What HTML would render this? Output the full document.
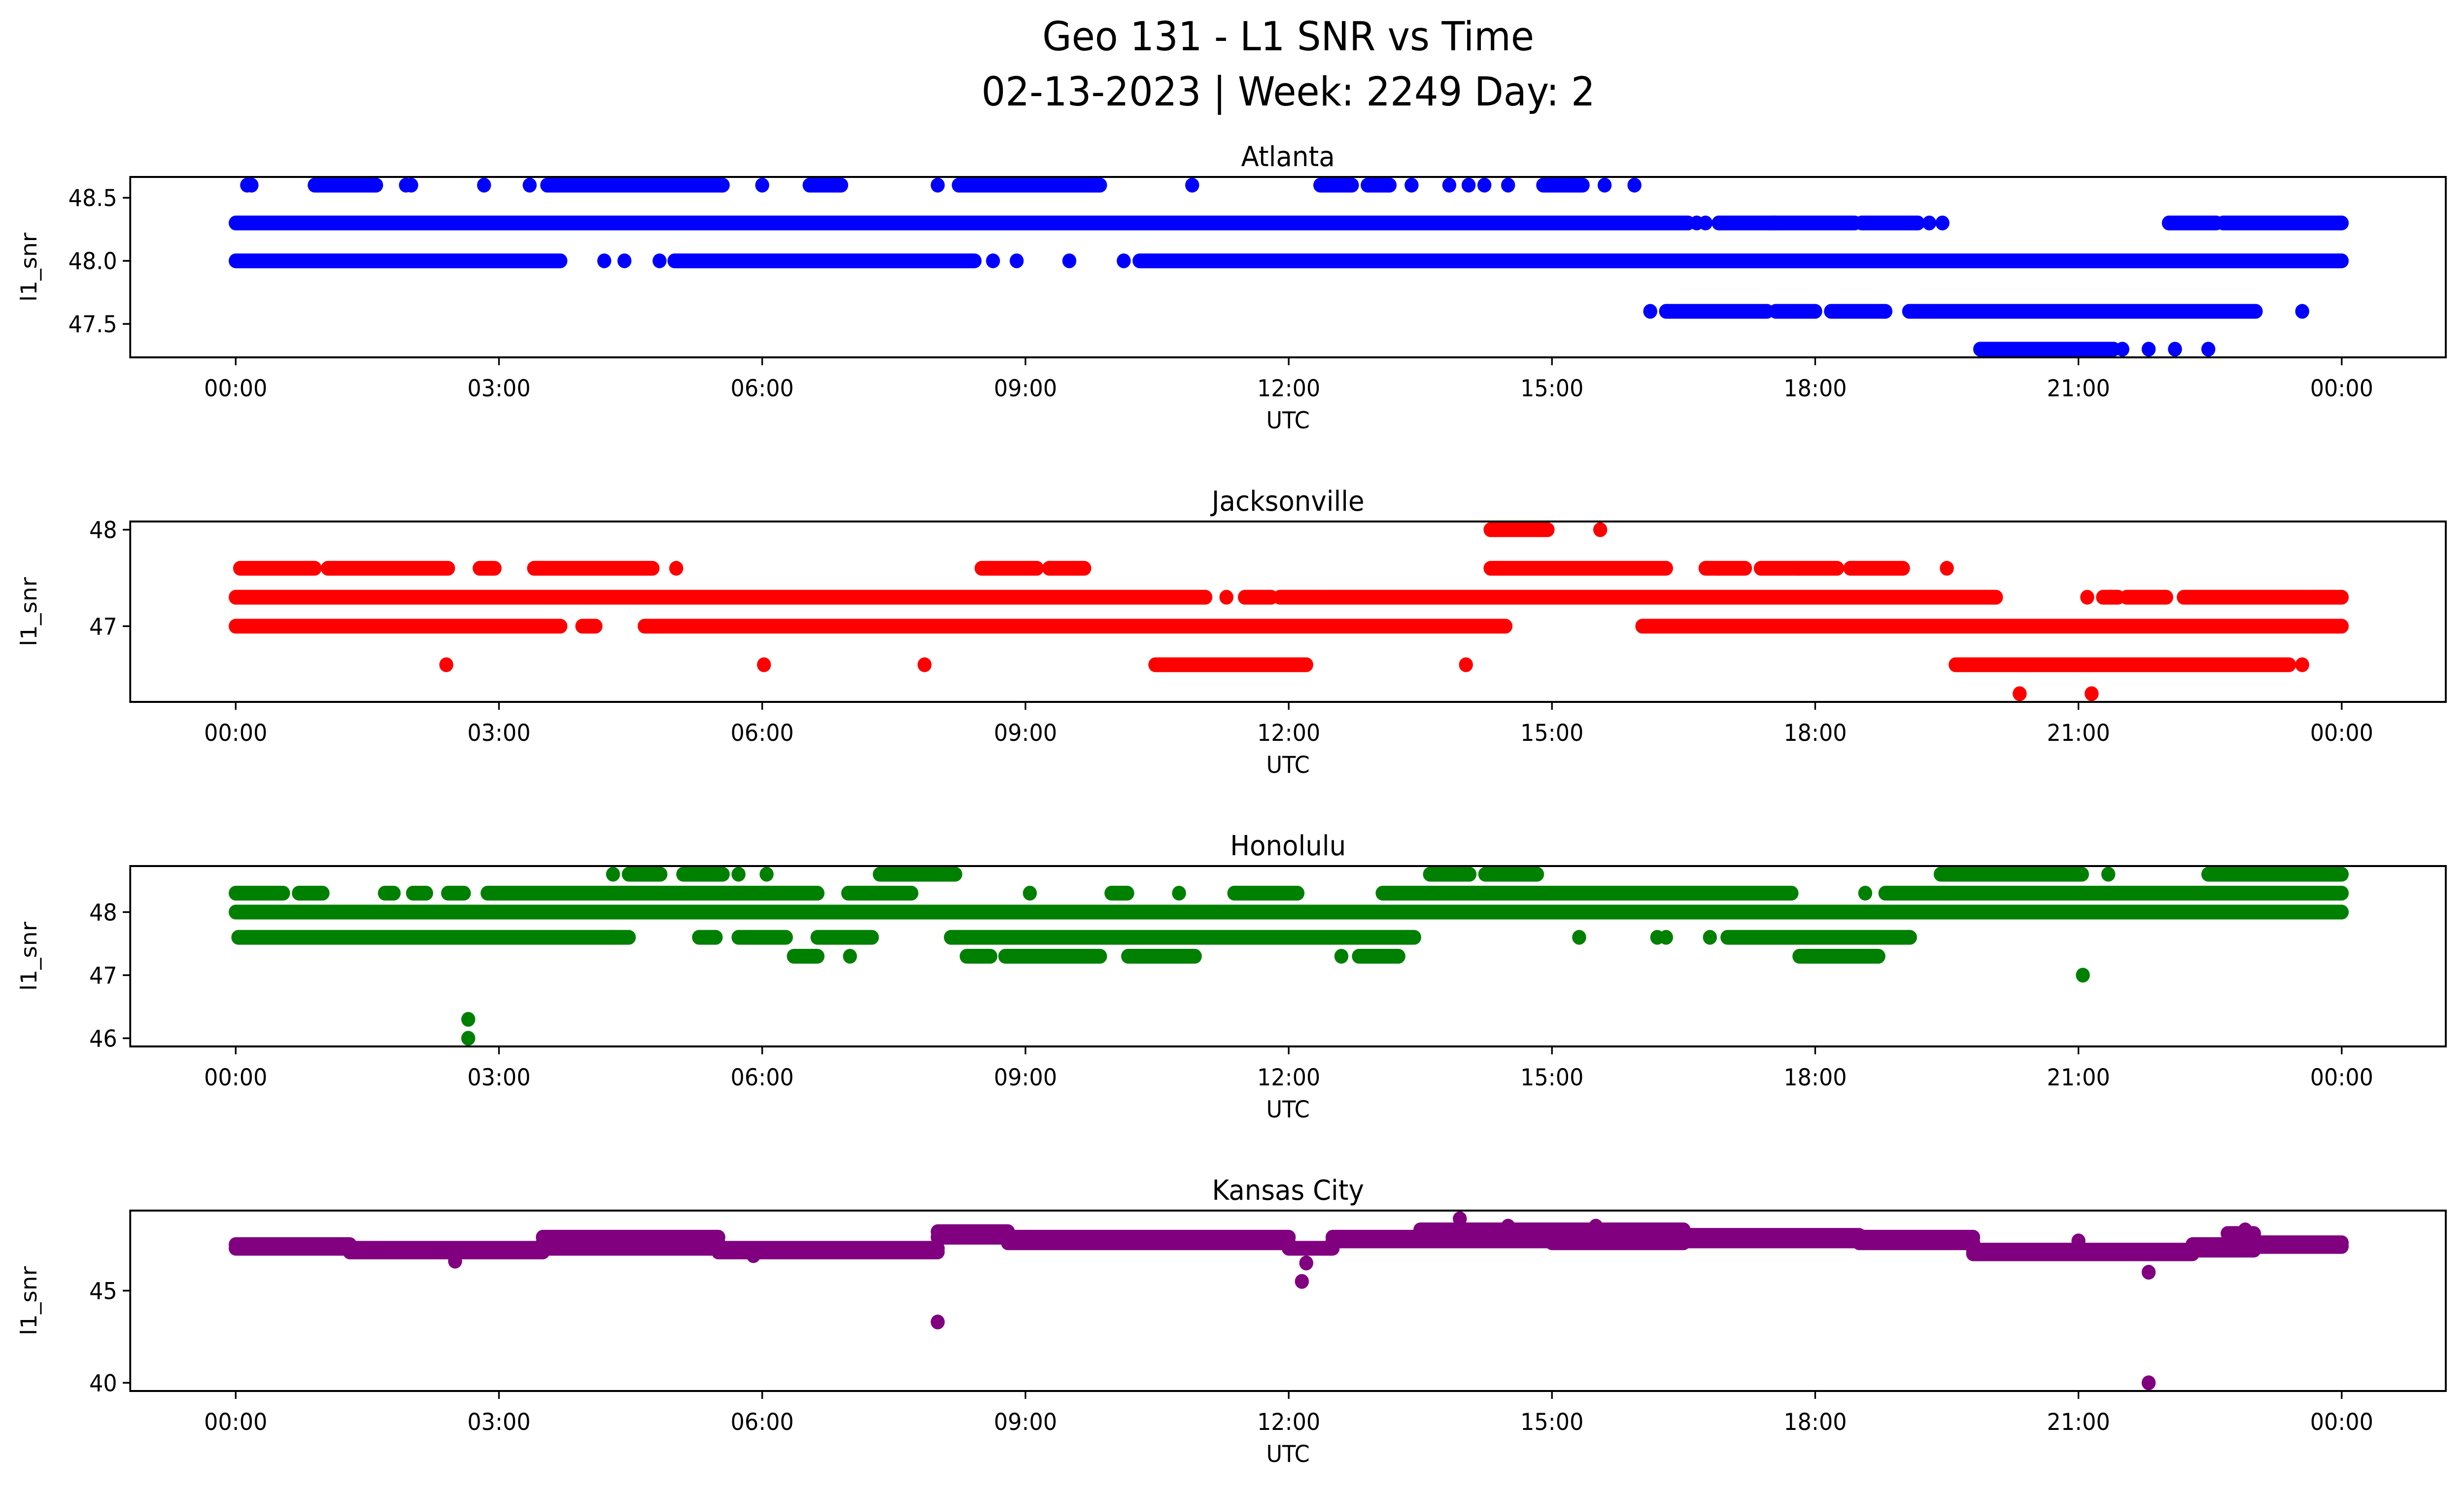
<!DOCTYPE html>
<html><head><meta charset="utf-8"><style>
html,body{margin:0;padding:0;background:#fff;overflow:hidden;width:100vw;height:100vh}
svg{display:block;position:absolute;left:0;top:0;width:100vw;height:100vh;font-family:"DejaVu Sans","Liberation Sans",sans-serif}
</style></head><body>
<svg id="chart" viewBox="0 0 5279 3033" preserveAspectRatio="none" xmlns="http://www.w3.org/2000/svg">
<rect width="5279" height="3033" fill="#fff"/>
<text x="2760" y="102" font-size="81" text-anchor="middle">Geo 131 - L1 SNR vs Time</text>
<text x="2760" y="214" font-size="81" text-anchor="middle">02-13-2023 | Week: 2249 Day: 2</text>
</svg>
<script>
// Data: runs [startHour, endHour, value]; single points [hour, value]
const xTickLabels = ["00:00","03:00","06:00","09:00","12:00","15:00","18:00","21:00","00:00"];
const stationNames = ["Atlanta","Jacksonville","Honolulu","Kansas City"];
const stationColors = ["#0000ff","#ff0000","#008000","#800080"];
const yDomains = [[47.235,48.665],[46.215,48.085],[45.87,48.73],[39.555,49.345]];
const yTicks = [[47.5,48.0,48.5],[47,48],[46,47,48],[40,45]];
const yTickLabels = [["47.5","48.0","48.5"],["47","48"],["46","47","48"],["40","45"]];

const atlRuns = [[0,16.55,48.3],[16.9,17.55,48.3],[17.5,18.45,48.3],[18.53,19.17,48.3],[22.03,22.57,48.3],[22.65,24,48.3],
 [0,3.7,48.0],[5.0,8.42,48.0],[10.3,24,48.0],
 [16.3,17.45,47.6],[17.55,18.0,47.6],[18.18,18.8,47.6],[19.07,23.02,47.6],
 [19.88,21.4,47.3],
 [0.9,1.6,48.6],[3.55,5.55,48.6],[6.54,6.9,48.6],[8.24,9.85,48.6],[12.36,12.72,48.6],[12.9,13.15,48.6],[14.9,15.35,48.6]];
const atlPoints = [[16.65,48.3],[16.75,48.3],[19.3,48.3],[19.45,48.3],[4.2,48.0],[4.43,48.0],[4.83,48.0],[8.63,48.0],[8.9,48.0],[9.5,48.0],[10.12,48.0],
 [16.12,47.6],[23.55,47.6],[21.5,47.3],[21.8,47.3],[22.1,47.3],[22.48,47.3],
 [0.13,48.6],[0.18,48.6],[1.94,48.6],[2.0,48.6],[2.83,48.6],[3.35,48.6],[6.0,48.6],[8.0,48.6],[10.9,48.6],[13.4,48.6],[13.83,48.6],[14.05,48.6],[14.23,48.6],[14.5,48.6],[15.6,48.6],[15.94,48.6]];

const jaxRuns = [[0,11.05,47.3],[11.5,11.8,47.3],[11.9,20.06,47.3],[21.28,21.45,47.3],[21.55,22.0,47.3],[22.2,24,47.3],
 [0,3.7,47.0],[3.95,4.1,47.0],[4.66,14.47,47.0],[16.03,24,47.0],
 [0.05,0.9,47.6],[1.05,2.42,47.6],[2.78,2.95,47.6],[3.4,4.75,47.6],[8.5,9.13,47.6],[9.27,9.67,47.6],[14.3,16.3,47.6],[16.75,17.2,47.6],[17.38,18.25,47.6],[18.4,19.0,47.6],
 [14.3,14.95,48.0],
 [10.48,12.2,46.6],[19.6,23.4,46.6]];
const jaxPoints = [[11.29,47.3],[21.1,47.3],[16.9,47.6],[17.8,47.6],[19.5,47.6],[5.02,47.6],[15.55,48.0],[2.4,46.6],[6.02,46.6],[7.85,46.6],[14.02,46.6],[23.55,46.6],[20.33,46.3],[21.15,46.3]];

const honRuns = [[0,24,48.0],
 [0.03,4.48,47.6],[5.28,5.47,47.6],[5.73,6.27,47.6],[6.63,7.25,47.6],[8.15,13.43,47.6],[17.0,19.08,47.6],
 [0,0.54,48.3],[0.72,0.99,48.3],[1.7,1.8,48.3],[2.02,2.17,48.3],[2.42,2.6,48.3],[2.87,6.63,48.3],[6.98,7.7,48.3],[9.98,10.16,48.3],[11.38,12.1,48.3],[13.07,17.73,48.3],[18.8,24,48.3],
 [4.48,4.84,48.6],[5.1,5.55,48.6],[7.34,8.2,48.6],[13.61,14.06,48.6],[14.24,14.83,48.6],[19.43,21.04,48.6],[22.48,24,48.6],
 [6.36,6.63,47.3],[8.33,8.6,47.3],[8.77,9.85,47.3],[10.17,10.93,47.3],[12.8,13.25,47.3],[17.82,18.72,47.3]];
const honPoints = [[9.05,48.3],[10.75,48.3],[18.57,48.3],[4.3,47.6],[13.35,47.6],[15.31,47.6],[16.2,47.6],[16.3,47.6],[16.8,47.6],
 [4.3,48.6],[5.73,48.6],[6.05,48.6],[21.34,48.6],[7.0,47.3],[12.6,47.3],[2.65,46.3],[2.65,46.0],[21.05,47.0]];

const kcRuns = [[0,1.3,47.5],[0,1.3,47.3],[1.3,3.5,47.3],[1.3,3.5,47.1],[3.5,5.5,47.6],[3.5,5.5,47.3],[3.5,5.5,47.9],[5.5,8.0,47.3],[5.5,8.0,47.1],
 [8.0,8.8,47.9],[8.0,8.8,48.2],[8.8,12.0,47.6],[8.8,12.0,47.9],[12.0,12.5,47.3],[12.5,13.5,47.7],[12.5,13.5,47.9],[13.5,15.0,48.0],[13.5,15.0,48.3],[13.5,15.0,47.7],
 [15.0,16.5,47.9],[15.0,16.5,48.3],[15.0,16.5,47.6],[16.5,18.5,47.7],[16.5,18.5,48.0],[18.5,19.8,47.6],[18.5,19.8,47.9],[19.8,22.3,47.2],[19.8,22.3,47.0],
 [22.3,23.0,47.5],[22.3,23.0,47.2],[22.7,23.0,48.1],[23.0,24,47.6],[23.0,24,47.4]];
const kcPoints = [[8.0,43.3],[12.15,45.5],[12.2,46.5],[21.8,46.0],[21.8,40.0],[13.95,48.9],[2.5,46.6],[5.9,46.9],[15.5,48.5],[14.5,48.5],[22.9,48.3],[21.0,47.7]];

const allRuns = [atlRuns,jaxRuns,honRuns,kcRuns];
const allPoints = [atlPoints,jaxPoints,honPoints,kcPoints];

const NS="http://www.w3.org/2000/svg";
const svg=document.getElementById('chart');
const L=279,R=5240,X0=505,X1=5017;
const tops=[359,1058,1757,2456], H=366, MR=15;
function xScale(h){return X0+(X1-X0)*h/24;}
function mk(tag,attrs,parent){const e=document.createElementNS(NS,tag);for(const k in attrs)e.setAttribute(k,attrs[k]);(parent||svg).appendChild(e);return e;}

for(let p=0;p<4;p++){
  const top=tops[p], bot=top+H, d=yDomains[p];
  const yScale=v=>bot-(v-d[0])/(d[1]-d[0])*H;
  const g=mk('g',{});
  
  
  const clip=mk('clipPath',{id:'c'+p},g);mk('rect',{x:L,y:top,width:R-L,height:H},clip);
  const marks=mk('g',{'clip-path':'url(#c'+p+')'},g);
  
  
  for(const r of allRuns[p]){
    const ln=mk('line',{x1:xScale(r[0]),x2:xScale(r[1]),y1:yScale(r[2]),y2:yScale(r[2]),stroke:stationColors[p],'stroke-width':MR*2,'stroke-linecap':'round'},marks);
    
    
  }
  for(const q of allPoints[p]){
    const c=mk('circle',{cx:xScale(q[0]),cy:yScale(q[1]),r:MR,fill:stationColors[p]},marks);
    
    
  }
  const fr=mk('rect',{x:L,y:top,width:R-L,height:H,fill:'none',stroke:'#000','stroke-width':4},g);
  
  
  const t=mk('text',{x:(L+R)/2,y:top-22,'font-size':56,'text-anchor':'middle'},g);t.textContent=stationNames[p];
  
  
  xTickLabels.forEach((lab,i)=>{
    const x=xScale(i*3);
    mk('line',{x1:x,x2:x,y1:bot,y2:bot+16,stroke:'#000','stroke-width':3.5},g);
    const tx=mk('text',{x:x,y:bot+79,'font-size':47,'text-anchor':'middle'},g);tx.textContent=lab;
    
    
  });
  const xl=mk('text',{x:(L+R)/2,y:bot+144,'font-size':47,'text-anchor':'middle'},g);xl.textContent='UTC';
  
  
  yTicks[p].forEach((v,i)=>{
    const y=yScale(v);
    mk('line',{x1:L-16,x2:L,y1:y,y2:y,stroke:'#000','stroke-width':3.5},g);
    const ty=mk('text',{x:L-28,y:y+17,'font-size':47,'text-anchor':'end'},g);ty.textContent=yTickLabels[p][i];
    
    
  });
  const yl=mk('text',{x:0,y:0,'font-size':47,'text-anchor':'middle',transform:`translate(78,${top+H/2}) rotate(-90)`},g);yl.textContent='l1_snr';
  
  
}
</script>
</body></html>
